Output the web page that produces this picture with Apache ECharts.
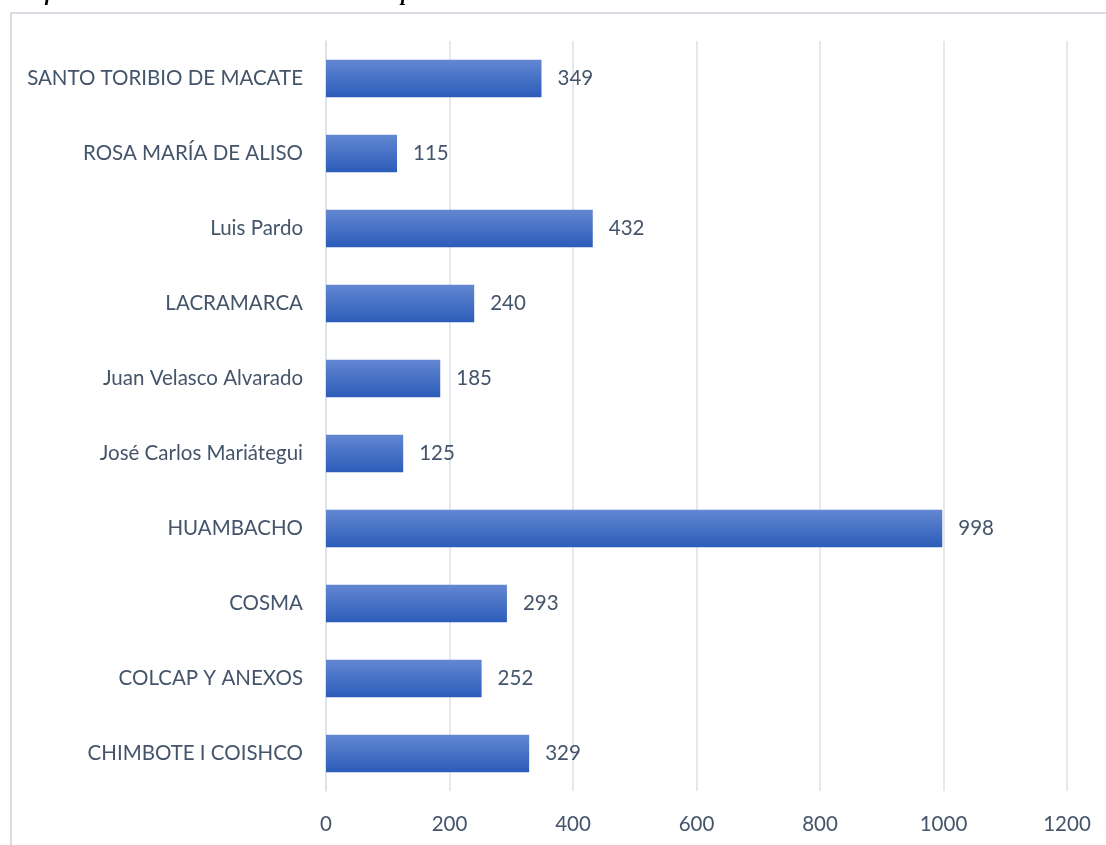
<!DOCTYPE html>
<html>
<head>
<meta charset="utf-8">
<style>
  html, body { margin: 0; padding: 0; background: #fff; }
  #chart { width: 1106px; height: 845px; }
</style>
<script src="https://cdn.jsdelivr.net/npm/echarts@6/dist/echarts.min.js"></script>
</head>
<body>
<div id="chart"></div>
<script>
  // datos (de abajo hacia arriba, como en el eje)
  var distritos = ['CHIMBOTE I COISHCO', 'COLCAP Y ANEXOS', 'COSMA', 'HUAMBACHO',
    'José Carlos Mariátegui', 'Juan Velasco Alvarado', 'LACRAMARCA', 'Luis Pardo',
    'ROSA MARÍA DE ALISO', 'SANTO TORIBIO DE MACATE'];
  var valores = [329, 252, 293, 998, 125, 185, 240, 432, 115, 349];
  var ticksX = [0, 200, 400, 600, 800, 1000, 1200];

  var textColor = '#44546a';
  var chart = echarts.init(document.getElementById('chart'));

  chart.setOption({
    animation: false,
    textStyle: { fontFamily: 'Lato, "Open Sans", sans-serif' },
    title: {
      text: 'Gráfica 33: Total de instituciones educativas públicas Santa',
      left: 6,
      top: -21,
      textStyle: {
        fontFamily: '"Liberation Serif", serif',
        fontStyle: 'italic',
        fontWeight: 'bold',
        fontSize: 21,
        color: '#000'
      }
    },
    graphic: [{
      type: 'rect',
      shape: { x: 11, y: 13, width: 1200, height: 900 },
      style: { fill: 'none', stroke: '#d9dde3', lineWidth: 2 },
      silent: true
    }],
    grid: { left: 326, right: 39, top: 41, bottom: 54 },
    xAxis: {
      type: 'value',
      min: ticksX[0],
      max: ticksX[ticksX.length - 1],
      interval: 200,
      axisLine: { show: false },
      axisTick: { show: false },
      splitLine: { lineStyle: { color: '#dde2ea', width: 1.5 } },
      axisLabel: {
        color: textColor, fontSize: 20.5, margin: 23,
        formatter: function (v) { return String(v); }
      }
    },
    yAxis: {
      type: 'category',
      data: distritos,
      axisLine: { show: true, lineStyle: { color: '#dde2ea', width: 1.5 } },
      axisTick: { show: false },
      axisLabel: { color: textColor, fontSize: 20.5, margin: 23 }
    },
    series: [{
      type: 'bar',
      data: valores,
      barWidth: '50%',
      itemStyle: {
        color: new echarts.graphic.LinearGradient(0, 0, 0, 1, [
          { offset: 0, color: '#6387d2' },
          { offset: 1, color: '#2c5cb9' }
        ])
      },
      label: {
        show: true,
        position: 'right',
        distance: 16,
        color: textColor,
        fontSize: 20.5
      }
    }]
  });
</script>
</body>
</html>
